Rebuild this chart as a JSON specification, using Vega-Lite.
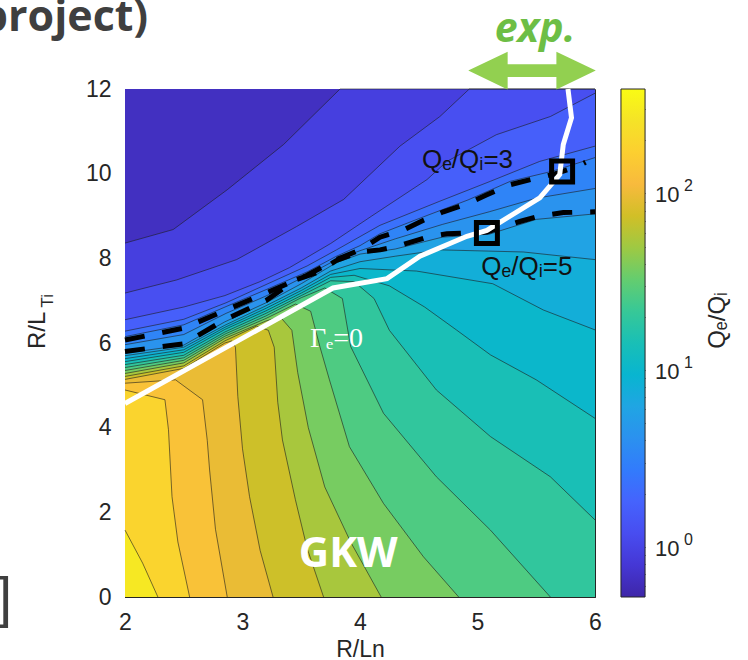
{
  "$schema": "https://vega.github.io/schema/vega-lite/v6.json",
  "width": 470,
  "height": 508,
  "autosize": {"type": "none"},
  "padding": {"left": 125, "top": 89, "right": 153, "bottom": 63},
  "background": "#ffffff",
  "config": {
    "view": {"stroke": "#262626", "strokeWidth": 1},
    "axis": {
      "labelFont": "Liberation Sans", "titleFont": "Liberation Sans",
      "labelColor": "#262626", "titleColor": "#262626",
      "tickColor": "#262626", "domainColor": "#262626",
      "grid": false, "labelFontSize": 23, "titleFontSize": 23, "titleFontWeight": "normal"
    }
  },
  "datasets": {
    "contours": [
      {"k":0,"v":0.656,"x":2,"y":12},{"k":0,"v":0.656,"x":6,"y":12},
      {"k":1,"v":0.913,"x":2,"y":8.36},{"k":1,"v":0.913,"x":2.41,"y":8.68},{"k":1,"v":0.913,"x":2.87,"y":9.62},{"k":1,"v":0.913,"x":3.35,"y":10.69},{"k":1,"v":0.913,"x":3.83,"y":12},{"k":1,"v":0.913,"x":6,"y":12},
      {"k":2,"v":1.23,"x":2,"y":7.18},{"k":2,"v":1.23,"x":2.44,"y":7.49},{"k":2,"v":1.23,"x":2.95,"y":7.97},{"k":2,"v":1.23,"x":3.46,"y":8.75},{"k":2,"v":1.23,"x":3.86,"y":9.39},{"k":2,"v":1.23,"x":4.34,"y":10.65},{"k":2,"v":1.23,"x":4.68,"y":11.35},{"k":2,"v":1.23,"x":4.93,"y":12},{"k":2,"v":1.23,"x":6,"y":12},
      {"k":3,"v":1.656,"x":2,"y":6.55},{"k":3,"v":1.656,"x":2.5,"y":6.85},{"k":3,"v":1.656,"x":2.85,"y":7.12},{"k":3,"v":1.656,"x":3.15,"y":7.45},{"k":3,"v":1.656,"x":3.4,"y":7.78},{"k":3,"v":1.656,"x":3.75,"y":8.35},{"k":3,"v":1.656,"x":4.1,"y":9.0},{"k":3,"v":1.656,"x":4.57,"y":9.86},{"k":3,"v":1.656,"x":4.74,"y":10.29},{"k":3,"v":1.656,"x":5.16,"y":10.92},{"k":3,"v":1.656,"x":5.62,"y":11.35},{"k":3,"v":1.656,"x":6,"y":11.9},
      {"k":4,"v":2.31,"x":2,"y":6.28},{"k":4,"v":2.31,"x":2.5,"y":6.56},{"k":4,"v":2.31,"x":2.86,"y":6.95},{"k":4,"v":2.31,"x":3.2,"y":7.38},{"k":4,"v":2.31,"x":3.55,"y":7.82},{"k":4,"v":2.31,"x":3.8,"y":8.2},{"k":4,"v":2.31,"x":4.17,"y":8.78},{"k":4,"v":2.31,"x":4.68,"y":9.35},{"k":4,"v":2.31,"x":5.11,"y":9.82},{"k":4,"v":2.31,"x":5.53,"y":10.29},{"k":4,"v":2.31,"x":6,"y":10.65},
      {"k":5,"v":3.21,"x":2,"y":6.15},{"k":5,"v":3.21,"x":2.5,"y":6.43},{"k":5,"v":3.21,"x":2.86,"y":6.86},{"k":5,"v":3.21,"x":3.2,"y":7.26},{"k":5,"v":3.21,"x":3.55,"y":7.68},{"k":5,"v":3.21,"x":3.8,"y":8.05},{"k":5,"v":3.21,"x":4.0,"y":8.3},{"k":5,"v":3.21,"x":4.17,"y":8.58},{"k":5,"v":3.21,"x":4.54,"y":8.98},{"k":5,"v":3.21,"x":4.92,"y":9.38},{"k":5,"v":3.21,"x":5.28,"y":9.82},{"k":5,"v":3.21,"x":5.64,"y":10.06},{"k":5,"v":3.21,"x":6,"y":10.38},
      {"k":6,"v":4.33,"x":2,"y":5.96},{"k":6,"v":4.33,"x":2.5,"y":6.2},{"k":6,"v":4.33,"x":2.86,"y":6.7},{"k":6,"v":4.33,"x":3.2,"y":7.11},{"k":6,"v":4.33,"x":3.55,"y":7.6},{"k":6,"v":4.33,"x":3.8,"y":7.97},{"k":6,"v":4.33,"x":4.0,"y":8.18},{"k":6,"v":4.33,"x":4.3,"y":8.46},{"k":6,"v":4.33,"x":4.7,"y":8.8},{"k":6,"v":4.33,"x":5.1,"y":9.1},{"k":6,"v":4.33,"x":5.5,"y":9.42},{"k":6,"v":4.33,"x":6,"y":9.65},
      {"k":7,"v":6.02,"x":2,"y":5.76},{"k":7,"v":6.02,"x":2.5,"y":5.95},{"k":7,"v":6.02,"x":2.85,"y":6.5},{"k":7,"v":6.02,"x":3.2,"y":6.95},{"k":7,"v":6.02,"x":3.5,"y":7.4},{"k":7,"v":6.02,"x":3.8,"y":7.9},{"k":7,"v":6.02,"x":4.0,"y":8.1},{"k":7,"v":6.02,"x":4.3,"y":8.22},{"k":7,"v":6.02,"x":4.7,"y":8.5},{"k":7,"v":6.02,"x":5.1,"y":8.57},{"k":7,"v":6.02,"x":5.5,"y":8.92},{"k":7,"v":6.02,"x":6,"y":9.05},
      {"k":8,"v":7.85,"x":2,"y":5.7},{"k":8,"v":7.85,"x":2.5,"y":5.9},{"k":8,"v":7.85,"x":2.85,"y":6.42},{"k":8,"v":7.85,"x":3.2,"y":6.88},{"k":8,"v":7.85,"x":3.5,"y":7.3},{"k":8,"v":7.85,"x":3.75,"y":7.7},{"k":8,"v":7.85,"x":4.0,"y":7.92},{"k":8,"v":7.85,"x":4.3,"y":8.05},{"k":8,"v":7.85,"x":4.68,"y":8.2},{"k":8,"v":7.85,"x":5.39,"y":8.15},{"k":8,"v":7.85,"x":6,"y":7.97},
      {"k":9,"v":10.2,"x":2,"y":5.63},{"k":9,"v":10.2,"x":2.5,"y":5.84},{"k":9,"v":10.2,"x":2.85,"y":6.37},{"k":9,"v":10.2,"x":3.2,"y":6.82},{"k":9,"v":10.2,"x":3.5,"y":7.24},{"k":9,"v":10.2,"x":3.75,"y":7.62},{"k":9,"v":10.2,"x":4.0,"y":7.76},{"k":9,"v":10.2,"x":4.48,"y":7.7},{"k":9,"v":10.2,"x":5.13,"y":7.4},{"k":9,"v":10.2,"x":5.56,"y":6.78},{"k":9,"v":10.2,"x":6,"y":6.31},
      {"k":10,"v":14.2,"x":2,"y":5.56},{"k":10,"v":14.2,"x":2.5,"y":5.78},{"k":10,"v":14.2,"x":2.85,"y":6.32},{"k":10,"v":14.2,"x":3.2,"y":6.76},{"k":10,"v":14.2,"x":3.5,"y":7.18},{"k":10,"v":14.2,"x":3.75,"y":7.55},{"k":10,"v":14.2,"x":3.95,"y":7.6},{"k":10,"v":14.2,"x":4.25,"y":7.35},{"k":10,"v":14.2,"x":4.55,"y":6.85},{"k":10,"v":14.2,"x":4.82,"y":6.31},{"k":10,"v":14.2,"x":5.11,"y":5.72},{"k":10,"v":14.2,"x":5.5,"y":5.13},{"k":10,"v":14.2,"x":6,"y":4.22},
      {"k":11,"v":19.8,"x":2,"y":5.49},{"k":11,"v":19.8,"x":2.5,"y":5.71},{"k":11,"v":19.8,"x":2.85,"y":6.26},{"k":11,"v":19.8,"x":3.2,"y":6.7},{"k":11,"v":19.8,"x":3.5,"y":7.12},{"k":11,"v":19.8,"x":3.75,"y":7.47},{"k":11,"v":19.8,"x":3.95,"y":7.45},{"k":11,"v":19.8,"x":4.12,"y":7.05},{"k":11,"v":19.8,"x":4.25,"y":6.3},{"k":11,"v":19.8,"x":4.65,"y":4.89},{"k":11,"v":19.8,"x":5.11,"y":3.79},{"k":11,"v":19.8,"x":5.62,"y":2.84},{"k":11,"v":19.8,"x":6,"y":1.82},
      {"k":12,"v":26.7,"x":2,"y":5.42},{"k":12,"v":26.7,"x":2.5,"y":5.65},{"k":12,"v":26.7,"x":2.85,"y":6.21},{"k":12,"v":26.7,"x":3.2,"y":6.64},{"k":12,"v":26.7,"x":3.5,"y":7.07},{"k":12,"v":26.7,"x":3.7,"y":7.3},{"k":12,"v":26.7,"x":3.85,"y":7.05},{"k":12,"v":26.7,"x":3.92,"y":5.92},{"k":12,"v":26.7,"x":4.2,"y":4.34},{"k":12,"v":26.7,"x":4.65,"y":2.84},{"k":12,"v":26.7,"x":5.11,"y":1.58},{"k":12,"v":26.7,"x":5.62,"y":0},
      {"k":13,"v":37.2,"x":2,"y":5.35},{"k":13,"v":37.2,"x":2.5,"y":5.59},{"k":13,"v":37.2,"x":2.85,"y":6.16},{"k":13,"v":37.2,"x":3.2,"y":6.58},{"k":13,"v":37.2,"x":3.45,"y":6.92},{"k":13,"v":37.2,"x":3.58,"y":6.75},{"k":13,"v":37.2,"x":3.66,"y":5.9},{"k":13,"v":37.2,"x":3.74,"y":5.13},{"k":13,"v":37.2,"x":3.91,"y":3.55},{"k":13,"v":37.2,"x":4.2,"y":2.21},{"k":13,"v":37.2,"x":4.54,"y":0.95},{"k":13,"v":37.2,"x":4.84,"y":0},
      {"k":14,"v":53.5,"x":2,"y":5.28},{"k":14,"v":53.5,"x":2.5,"y":5.53},{"k":14,"v":53.5,"x":2.85,"y":6.11},{"k":14,"v":53.5,"x":3.2,"y":6.52},{"k":14,"v":53.5,"x":3.32,"y":6.62},{"k":14,"v":53.5,"x":3.42,"y":6.3},{"k":14,"v":53.5,"x":3.47,"y":5.3},{"k":14,"v":53.5,"x":3.56,"y":4.0},{"k":14,"v":53.5,"x":3.7,"y":2.6},{"k":14,"v":53.5,"x":3.92,"y":1.3},{"k":14,"v":53.5,"x":4.18,"y":0},
      {"k":15,"v":72.1,"x":2,"y":5.21},{"k":15,"v":72.1,"x":2.5,"y":5.46},{"k":15,"v":72.1,"x":2.85,"y":6.05},{"k":15,"v":72.1,"x":3.12,"y":6.4},{"k":15,"v":72.1,"x":3.22,"y":6.3},{"k":15,"v":72.1,"x":3.27,"y":5.9},{"k":15,"v":72.1,"x":3.3,"y":4.6},{"k":15,"v":72.1,"x":3.34,"y":3.71},{"k":15,"v":72.1,"x":3.45,"y":2.3},{"k":15,"v":72.1,"x":3.55,"y":1.15},{"k":15,"v":72.1,"x":3.69,"y":0},
      {"k":16,"v":97.1,"x":2,"y":5.14},{"k":16,"v":97.1,"x":2.5,"y":5.4},{"k":16,"v":97.1,"x":2.85,"y":6.0},{"k":16,"v":97.1,"x":2.91,"y":6.05},{"k":16,"v":97.1,"x":2.94,"y":5.9},{"k":16,"v":97.1,"x":2.96,"y":4.74},{"k":16,"v":97.1,"x":3.0,"y":3.5},{"k":16,"v":97.1,"x":3.06,"y":2.37},{"k":16,"v":97.1,"x":3.15,"y":1.1},{"k":16,"v":97.1,"x":3.26,"y":0},
      {"k":17,"v":131,"x":2,"y":5.05},{"k":17,"v":131,"x":2.43,"y":5.13},{"k":17,"v":131,"x":2.66,"y":4.66},{"k":17,"v":131,"x":2.7,"y":3.7},{"k":17,"v":131,"x":2.72,"y":3.0},{"k":17,"v":131,"x":2.77,"y":1.6},{"k":17,"v":131,"x":2.87,"y":0},
      {"k":18,"v":188,"x":2,"y":4.89},{"k":18,"v":188,"x":2.34,"y":4.66},{"k":18,"v":188,"x":2.37,"y":3.95},{"k":18,"v":188,"x":2.4,"y":2.37},{"k":18,"v":188,"x":2.45,"y":1.3},{"k":18,"v":188,"x":2.55,"y":0},
      {"k":19,"v":280,"x":2,"y":1.58},{"k":19,"v":280,"x":2.15,"y":0.8},{"k":19,"v":280,"x":2.28,"y":0}
    ],
    "ratioLines": [
      {"c":"3","x":2,"y":6.07},{"c":"3","x":2.5,"y":6.35},{"c":"3","x":2.86,"y":6.78},{"c":"3","x":3.2,"y":7.18},{"c":"3","x":3.55,"y":7.6},{"c":"3","x":3.8,"y":7.97},{"c":"3","x":4.0,"y":8.2},{"c":"3","x":4.17,"y":8.5},{"c":"3","x":4.37,"y":8.67},{"c":"3","x":4.54,"y":8.9},{"c":"3","x":4.71,"y":9.1},{"c":"3","x":4.92,"y":9.3},{"c":"3","x":5.08,"y":9.5},{"c":"3","x":5.28,"y":9.74},{"c":"3","x":5.45,"y":9.86},{"c":"3","x":5.64,"y":9.98},{"c":"3","x":5.85,"y":10.17},{"c":"3","x":5.92,"y":10.27},
      {"c":"5","x":2,"y":5.8},{"c":"5","x":2.5,"y":5.98},{"c":"5","x":2.85,"y":6.55},{"c":"5","x":3.2,"y":7.0},{"c":"5","x":3.45,"y":7.49},{"c":"5","x":3.63,"y":7.66},{"c":"5","x":3.8,"y":7.95},{"c":"5","x":4.0,"y":8.15},{"c":"5","x":4.17,"y":8.2},{"c":"5","x":4.3,"y":8.27},{"c":"5","x":4.57,"y":8.5},{"c":"5","x":4.74,"y":8.58},{"c":"5","x":5.08,"y":8.62},{"c":"5","x":5.36,"y":8.87},{"c":"5","x":5.53,"y":9.0},{"c":"5","x":5.73,"y":9.08},{"c":"5","x":6,"y":9.1}
    ],
    "zeroFlux": [
      {"i":0,"x":2,"y":4.57},{"i":1,"x":3.77,"y":7.3},{"i":2,"x":4.23,"y":7.52},{"i":3,"x":4.51,"y":8.05},{"i":4,"x":4.91,"y":8.52},{"i":5,"x":5.08,"y":8.66},{"i":6,"x":5.53,"y":9.43},{"i":7,"x":5.7,"y":9.98},{"i":8,"x":5.73,"y":10.69},{"i":9,"x":5.8,"y":11.32},{"i":10,"x":5.77,"y":12}
    ],
    "decades": [
      {"v": 1, "p": "0"}, {"v": 10, "p": "1"}, {"v": 100, "p": "2"}
    ]
  },
  "layer": [
    {
      "layer": [
        {
          "data": {"name": "contours"},
          "mark": {"type": "area", "interpolate": "linear"},
          "encoding": {
            "x": {"field": "x", "type": "quantitative",
                  "scale": {"domain": [2, 6], "nice": false, "zero": false},
                  "axis": {"values": [2, 3, 4, 5, 6], "format": "d", "tickSize": -6, "labelPadding": 20, "labelFlush": false, "title": "R/Ln", "titlePadding": 4}},
            "y": {"field": "y", "type": "quantitative", "stack": null,
                  "scale": {"domain": [0, 12], "nice": false},
                  "axis": {"values": [0, 2, 4, 6, 8, 10, 12], "format": "d", "tickSize": -6, "labelPadding": 20, "title": null}},
            "color": {"field": "v", "type": "quantitative", "legend": null,
                      "scale": {"type": "log", "interpolate": "rgb",
                                "domain": [0.52, 0.786, 1.19, 1.799, 2.722, 4.117, 6.228, 9.42, 14.24, 21.54, 32.58, 49.28, 74.5, 112.7, 170.5, 257.9, 390],
                                "range": ["#3E26A8", "#4537D5", "#484DF0", "#4563FD", "#327BFC", "#2B91EF", "#20A5E3", "#08B5D0", "#19BFB6", "#37C897", "#64CD6F", "#9EC943", "#D1BF27", "#F8BA3D", "#FCCF30", "#F5E327", "#F9FB14"]}},
            "detail": {"field": "k", "type": "nominal"}
          }
        },
        {
          "data": {"name": "contours"},
          "transform": [{"filter": "datum.k > 0"}],
          "mark": {"type": "line", "stroke": "#1c1c1c", "strokeWidth": 0.6},
          "encoding": {
            "x": {"field": "x", "type": "quantitative"},
            "y": {"field": "y", "type": "quantitative"},
            "detail": {"field": "k", "type": "nominal"}
          }
        },
        {
          "data": {"name": "ratioLines"},
          "mark": {"type": "line", "stroke": "#000000", "strokeWidth": 5, "strokeDash": [20, 18], "strokeCap": "butt"},
          "encoding": {
            "x": {"field": "x", "type": "quantitative"},
            "y": {"field": "y", "type": "quantitative"},
            "detail": {"field": "c", "type": "nominal"}
          }
        },
        {
          "data": {"name": "zeroFlux"},
          "mark": {"type": "line", "stroke": "#ffffff", "strokeWidth": 5},
          "encoding": {
            "x": {"field": "x", "type": "quantitative"},
            "y": {"field": "y", "type": "quantitative"},
            "order": {"field": "i", "type": "quantitative"}
          }
        },
        {
          "data": {"values": [{"x": 5.08, "y": 8.6}, {"x": 5.72, "y": 10.05}]},
          "mark": {"type": "point", "shape": "square", "size": 440, "filled": false, "stroke": "#000000", "strokeWidth": 5, "opacity": 1},
          "encoding": {
            "x": {"field": "x", "type": "quantitative"},
            "y": {"field": "y", "type": "quantitative"}
          }
        },
        {
          "data": {"values": [{"x": 4.915, "y": 10.13, "t": "Qₑ/Qᵢ=3"}, {"x": 5.42, "y": 7.61, "t": "Qₑ/Qᵢ=5"}]},
          "mark": {"type": "text", "font": "Liberation Sans", "fontSize": 26, "fill": "#111111", "align": "center", "baseline": "alphabetic"},
          "encoding": {
            "x": {"field": "x", "type": "quantitative"},
            "y": {"field": "y", "type": "quantitative"},
            "text": {"field": "t"}
          }
        },
        {
          "data": {"values": [{"x": 3.8, "y": 5.91, "t": "Γₑ=0"}]},
          "mark": {"type": "text", "font": "Liberation Serif", "fontSize": 28, "fill": "#ffffff", "align": "center", "baseline": "alphabetic"},
          "encoding": {
            "x": {"field": "x", "type": "quantitative"},
            "y": {"field": "y", "type": "quantitative"},
            "text": {"field": "t"}
          }
        },
        {
          "data": {"values": [{"x": 3.9, "y": 0.71, "t": "GKW"}]},
          "mark": {"type": "text", "font": "Open Sans", "fontWeight": "bold", "fontSize": 42, "fill": "#ffffff", "align": "center", "baseline": "alphabetic"},
          "encoding": {
            "x": {"field": "x", "type": "quantitative"},
            "y": {"field": "y", "type": "quantitative"},
            "text": {"field": "t"}
          }
        },
        {
          "data": {"values": [{"x": 5.464, "y": 12.435}]},
          "mark": {"type": "point", "filled": true, "fill": "#92D050", "opacity": 1, "strokeWidth": 0, "size": 1521,
                   "shape": "M-3.27,0L-1.25,-0.97L-1.25,-0.33L1.25,-0.33L1.25,-0.97L3.27,0L1.25,0.97L1.25,0.33L-1.25,0.33L-1.25,0.97Z"},
          "encoding": {
            "x": {"field": "x", "type": "quantitative"},
            "y": {"field": "y", "type": "quantitative"}
          }
        },
        {
          "data": {"values": [{"x": 5.49, "y": 13.12, "t": "exp."}]},
          "mark": {"type": "text", "font": "Open Sans", "fontWeight": "bold", "fontStyle": "italic", "fontSize": 41, "fill": "#6DBE45", "align": "center", "baseline": "alphabetic"},
          "encoding": {
            "x": {"field": "x", "type": "quantitative"},
            "y": {"field": "y", "type": "quantitative"},
            "text": {"field": "t"}
          }
        },
        {
          "data": {"values": [{"x": 2.196, "y": 13.38, "t": "project)"}]},
          "mark": {"type": "text", "font": "Open Sans", "fontWeight": "bold", "fontSize": 43, "fill": "#3F3F3F", "align": "right", "baseline": "alphabetic"},
          "encoding": {
            "x": {"field": "x", "type": "quantitative"},
            "y": {"field": "y", "type": "quantitative"},
            "text": {"field": "t"}
          }
        },
        {
          "data": {"values": [{"x": 1.038, "y": -0.45, "t": "]"}]},
          "mark": {"type": "text", "font": "Liberation Sans", "fontSize": 56, "fill": "#3F3F3F", "align": "right", "baseline": "alphabetic"},
          "encoding": {
            "x": {"field": "x", "type": "quantitative"},
            "y": {"field": "y", "type": "quantitative"},
            "text": {"field": "t"}
          }
        },
        {
          "data": {"values": [{"x": 1.319, "y": 6.3, "t": "R/L"}]},
          "mark": {"type": "text", "font": "Liberation Sans", "fontSize": 24, "fill": "#262626", "align": "center", "baseline": "alphabetic", "angle": 270},
          "encoding": {
            "x": {"field": "x", "type": "quantitative"},
            "y": {"field": "y", "type": "quantitative"},
            "text": {"field": "t"}
          }
        },
        {
          "data": {"values": [{"x": 1.39, "y": 7.0, "t": "Ti"}]},
          "mark": {"type": "text", "font": "Liberation Sans", "fontSize": 17, "fill": "#262626", "align": "center", "baseline": "alphabetic", "angle": 270},
          "encoding": {
            "x": {"field": "x", "type": "quantitative"},
            "y": {"field": "y", "type": "quantitative"},
            "text": {"field": "t"}
          }
        }
      ]
    },
    {
      "layer": [
        {
          "data": {"values": [{"lo": 0.52, "hi": 390}]},
          "mark": {
            "type": "rect", "stroke": "#262626", "strokeWidth": 1,
            "fill": {"gradient": "linear", "x1": 0, "y1": 1, "x2": 0, "y2": 0,
                     "stops": [
                       {"offset": 0, "color": "#3E26A8"}, {"offset": 0.0625, "color": "#4537D5"}, {"offset": 0.125, "color": "#484DF0"},
                       {"offset": 0.1875, "color": "#4563FD"}, {"offset": 0.25, "color": "#327BFC"}, {"offset": 0.3125, "color": "#2B91EF"},
                       {"offset": 0.375, "color": "#20A5E3"}, {"offset": 0.4375, "color": "#08B5D0"}, {"offset": 0.5, "color": "#19BFB6"},
                       {"offset": 0.5625, "color": "#37C897"}, {"offset": 0.625, "color": "#64CD6F"}, {"offset": 0.6875, "color": "#9EC943"},
                       {"offset": 0.75, "color": "#D1BF27"}, {"offset": 0.8125, "color": "#F8BA3D"}, {"offset": 0.875, "color": "#FCCF30"},
                       {"offset": 0.9375, "color": "#F5E327"}, {"offset": 1, "color": "#F9FB14"}
                     ]}
          },
          "encoding": {
            "x": {"datum": 6.221, "type": "quantitative", "scale": {"domain": [2, 6], "nice": false, "zero": false}, "axis": null},
            "x2": {"datum": 6.426},
            "y": {"field": "lo", "type": "quantitative",
                  "scale": {"type": "log", "domain": [0.52, 390], "nice": false},
                  "axis": {"orient": "right", "offset": 50, "domain": false, "tickSize": -4, "labels": false,
                           "values": [0.6, 0.7, 0.8, 0.9, 1, 2, 3, 4, 5, 6, 7, 8, 9, 10, 20, 30, 40, 50, 60, 70, 80, 90, 100, 200, 300],
                           "title": "Qₑ/Qᵢ", "titleAngle": 270, "titleX": 72, "titleY": 231, "titleAlign": "center", "titleBaseline": "middle", "titleFontSize": 24}},
            "y2": {"field": "hi"}
          }
        },
        {
          "data": {"name": "decades"},
          "mark": {"type": "text", "font": "Liberation Sans", "fontSize": 22, "fill": "#262626", "align": "left", "baseline": "middle", "dx": 10, "dy": 2},
          "encoding": {
            "x": {"datum": 6.426, "type": "quantitative"},
            "y": {"field": "v", "type": "quantitative"},
            "text": {"value": "10"}
          }
        },
        {
          "data": {"name": "decades"},
          "mark": {"type": "text", "font": "Liberation Sans", "fontSize": 16, "fill": "#262626", "align": "left", "baseline": "middle", "dx": 39, "dy": -7},
          "encoding": {
            "x": {"datum": 6.426, "type": "quantitative"},
            "y": {"field": "v", "type": "quantitative"},
            "text": {"field": "p"}
          }
        }
      ]
    },
    {
      "data": {"values": [{"x": 2, "y": 0}, {"x": 6, "y": 12}]},
      "mark": {"type": "point", "opacity": 0},
      "encoding": {
        "x": {"field": "x", "type": "quantitative", "scale": {"domain": [2, 6], "nice": false, "zero": false},
              "axis": {"orient": "top", "values": [3, 4, 5], "labels": false, "domain": false, "tickSize": -6, "title": null}},
        "y": {"field": "y", "type": "quantitative", "scale": {"domain": [0, 12], "nice": false},
              "axis": {"orient": "right", "values": [2, 4, 6, 8, 10], "labels": false, "domain": false, "tickSize": -6, "title": null}}
      }
    }
  ],
  "resolve": {"scale": {"x": "independent", "y": "independent"}}
}
